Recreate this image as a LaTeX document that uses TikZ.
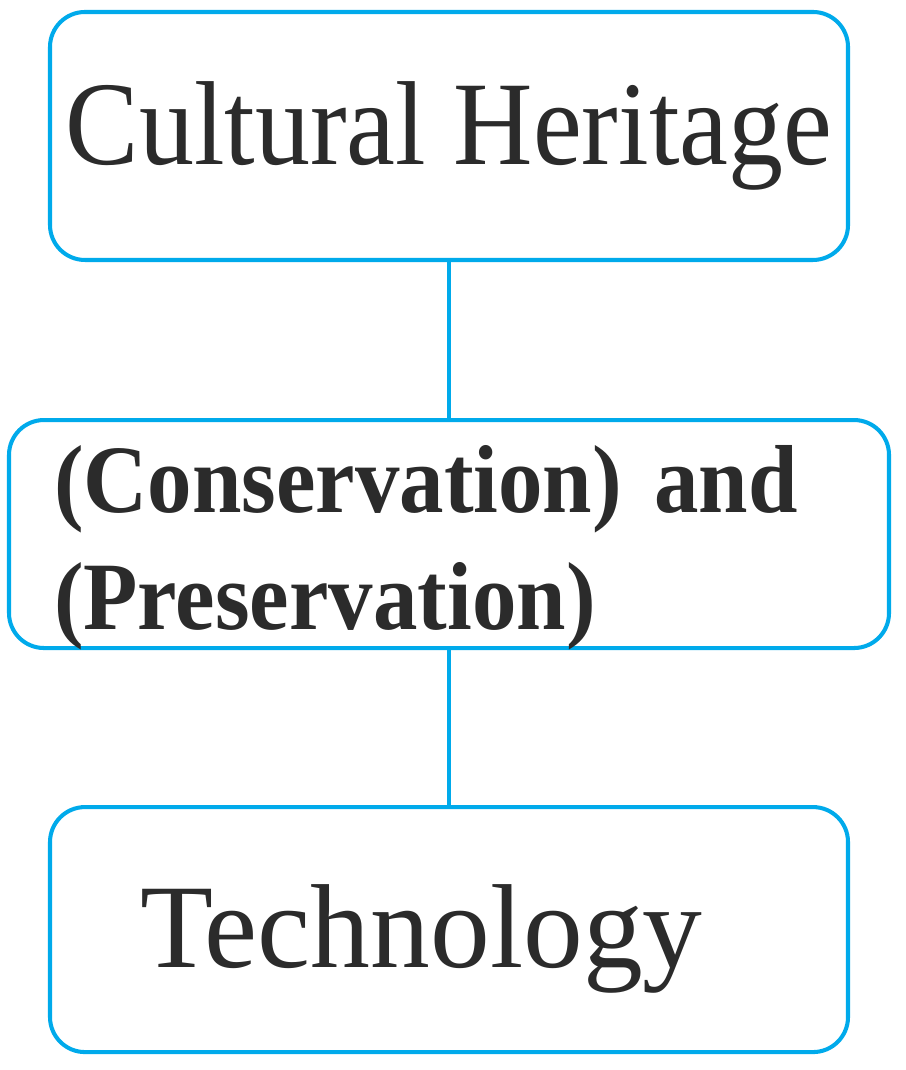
\documentclass[tikz,border=0pt]{standalone}
\usepackage{fontspec}
\setmainfont{Liberation Serif}
\newfontfamily\boxfont[FakeStretch=0.92]{Liberation Serif}
\newfontfamily\techfont[FakeStretch=1.0]{Liberation Serif}
\usetikzlibrary{positioning}
\definecolor{boxblue}{RGB}{0,170,235}
\definecolor{boxtext}{RGB}{43,43,43}

\begin{document}
\begin{tikzpicture}[box/.style={draw=boxblue, line width=2.3pt, rounded corners=0.7cm, text=boxtext,
        minimum width=15.96cm, inner ysep=0pt, font=\boxfont\fontsize{68}{70}\selectfont},
    link/.style={draw=boxblue, line width=2.2pt},]

\useasboundingbox (0,0) rectangle (18.1,21.4);

\node[box, text height=3.06cm, text depth=1.9cm] (heritage) at (8.98,18.68) {Cultural Heritage};
\node[box, below=3.12cm of heritage, text width=15.8cm, inner xsep=0.9cm, align=left,
    text height=1.84cm, text depth=2.72cm,
    font=\boxfont\bfseries\fontsize{55}{67}\selectfont] (conservation) {(Conservation) and\\(Preservation)};
\node[box, below=3.1cm of conservation, text width=12.36cm, inner xsep=1.8cm, align=left,
    text height=3.2cm, text depth=1.7cm, font=\techfont\fontsize{68}{70}\selectfont] (technology) {Technology};

\draw[link] (heritage) -- (conservation);
\draw[link] (conservation) -- (technology);
\end{tikzpicture}
\end{document}
